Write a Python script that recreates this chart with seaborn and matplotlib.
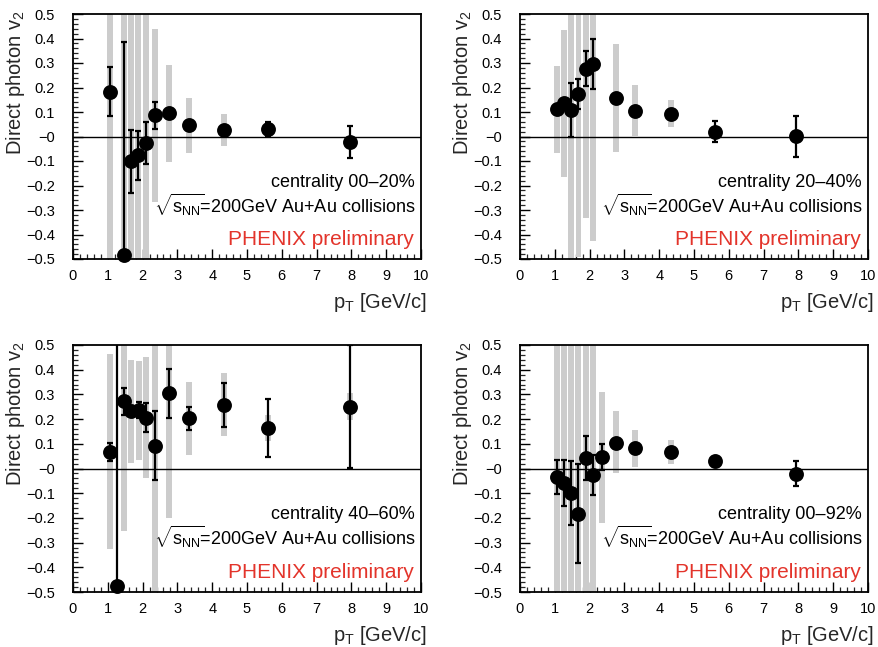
import numpy as np
import pandas as pd
import matplotlib
matplotlib.use("Agg")
import matplotlib.pyplot as plt
from matplotlib.ticker import FixedLocator, FixedFormatter, MultipleLocator
import seaborn as sns

# ---------------- data ----------------
centralities = ["centrality 00\u201320%", "centrality 20\u201340%",
                "centrality 40\u201360%", "centrality 00\u201392%"]

pt_0020 = [1.07, 1.46, 1.66, 1.88, 2.09, 2.36, 2.76, 3.33, 4.34, 5.61, 7.95]
v2_0020 = [0.183, -0.485, -0.102, -0.077, -0.026, 0.086, 0.095, 0.048, 0.027, 0.031, -0.022]
stat_0020 = [0.100, 0.872, 0.130, 0.100, 0.087, 0.055, 0.010, 0.010, 0.010, 0.027, 0.064]
syslo_0020 = [-0.6, -0.6, -0.6, -0.6, -0.6, -0.268, -0.105, -0.067, -0.037, 0.015, -0.035]
syshi_0020 = [0.6, 0.6, 0.6, 0.6, 0.6, 0.437, 0.292, 0.158, 0.092, 0.048, -0.008]

pt_2040 = [1.07, 1.27, 1.46, 1.68, 1.89, 2.09, 2.75, 3.31, 4.33, 5.60, 7.93]
v2_2040 = [0.112, 0.135, 0.110, 0.173, 0.277, 0.295, 0.157, 0.104, 0.092, 0.020, 0.001]
stat_2040 = [0.010, 0.010, 0.110, 0.061, 0.072, 0.101, 0.010, 0.010, 0.020, 0.042, 0.083]
syslo_2040 = [-0.066, -0.165, -0.6, -0.49, -0.331, -0.426, -0.064, 0.004, 0.038, 0.000, -0.015]
syshi_2040 = [0.288, 0.436, 0.6, 0.6, 0.6, 0.6, 0.376, 0.209, 0.149, 0.040, 0.017]

pt_4060 = [1.07, 1.27, 1.47, 1.67, 1.89, 2.10, 2.36, 2.76, 3.33, 4.34, 5.61, 7.95]
v2_4060 = [0.067, -0.474, 0.272, 0.233, 0.236, 0.206, 0.092, 0.304, 0.204, 0.258, 0.164, 0.251]
stat_4060 = [0.036, 1.2, 0.054, 0.020, 0.032, 0.060, 0.140, 0.100, 0.047, 0.090, 0.117, 0.250]
syslo_4060 = [-0.326, np.nan, -0.255, 0.023, 0.036, -0.038, -0.6, -0.201, 0.056, 0.130, 0.110, 0.197]
syshi_4060 = [0.462, np.nan, 0.6, 0.439, 0.435, 0.452, 0.6, 0.6, 0.349, 0.385, 0.216, 0.305]

pt_0092 = [1.07, 1.27, 1.46, 1.67, 1.89, 2.09, 2.36, 2.75, 3.30, 4.34, 5.60, 7.93]
v2_0092 = [-0.035, -0.060, -0.100, -0.183, 0.043, -0.027, 0.046, 0.103, 0.081, 0.066, 0.030, -0.021]
stat_0092 = [0.070, 0.093, 0.130, 0.200, 0.089, 0.080, 0.052, 0.010, 0.010, 0.010, 0.010, 0.050]
syslo_0092 = [-0.6, -0.6, -0.6, -0.6, -0.6, -0.6, -0.222, -0.020, 0.005, 0.017, 0.012, -0.040]
syshi_0092 = [0.6, 0.6, 0.6, 0.6, 0.6, 0.6, 0.309, 0.234, 0.157, 0.114, 0.048, -0.005]

ytick_values = [-0.5, -0.4, -0.3, -0.2, -0.1, 0.0, 0.1, 0.2, 0.3, 0.4, 0.5]
ytick_labels = ["\u22120.5", "\u22120.4", "\u22120.3", "\u22120.2", "\u22120.1", "\u22120",
                "0.1", "0.2", "0.3", "0.4", "0.5"]
xtick_values = [0, 1, 2, 3, 4, 5, 6, 7, 8, 9, 10]

panels = [
    (pt_0020, v2_0020, stat_0020, syslo_0020, syshi_0020),
    (pt_2040, v2_2040, stat_2040, syslo_2040, syshi_2040),
    (pt_4060, v2_4060, stat_4060, syslo_4060, syshi_4060),
    (pt_0092, v2_0092, stat_0092, syslo_0092, syshi_0092),
]

# ---------------- style ----------------
sns.set_theme(style="ticks")
plt.rcParams["font.family"] = ["Liberation Sans", "DejaVu Sans"]
plt.rcParams["mathtext.fontset"] = "custom"
plt.rcParams["mathtext.rm"] = "Liberation Sans"
plt.rcParams["mathtext.it"] = "Liberation Sans:italic"
plt.rcParams["axes.unicode_minus"] = True

fig = plt.figure(figsize=(8.79, 6.47), dpi=100)
W, H = 879, 647
positions = [
    (73 / W, (H - 259) / H, 348 / W, 245 / H),
    (520 / W, (H - 259) / H, 348 / W, 245 / H),
    (73 / W, (H - 592) / H, 348 / W, 247 / H),
    (520 / W, (H - 592) / H, 348 / W, 247 / H),
]

band_color = "#cccccc"
red = "#e3342b"

for i, (pos, (pt, v2, st, slo, shi)) in enumerate(zip(positions, panels)):
    ax = fig.add_axes(pos)
    df = pd.DataFrame({"pt": pt, "v2": v2, "stat": st, "slo": slo, "shi": shi})
    sys_df = df.dropna(subset=["slo", "shi"])
    # systematic bands
    ax.bar(sys_df["pt"], sys_df["shi"] - sys_df["slo"], bottom=sys_df["slo"],
           width=0.17, color=band_color, linewidth=0, zorder=1)
    # zero line
    ax.axhline(0, color="black", linewidth=1.0, zorder=2)
    # statistical errors
    ax.errorbar(df["pt"], df["v2"], yerr=df["stat"], fmt="none", ecolor="black",
                elinewidth=1.6, capsize=2.2, capthick=1.6, zorder=3)
    # points
    sns.scatterplot(data=df, x="pt", y="v2", ax=ax, color="black", s=115,
                    edgecolor="black", linewidth=0, zorder=4, legend=False)
    ax.collections[-1].set_clip_on(False)

    ax.set_xlim(0, 10)
    ax.set_ylim(-0.5, 0.5)
    ax.xaxis.set_major_locator(FixedLocator(xtick_values))
    ax.xaxis.set_minor_locator(MultipleLocator(0.2))
    ax.yaxis.set_major_locator(FixedLocator(ytick_values))
    ax.yaxis.set_major_formatter(FixedFormatter(ytick_labels))
    ax.yaxis.set_minor_locator(MultipleLocator(0.02))
    ax.tick_params(axis="both", which="major", direction="in", length=7, width=1.0,
                   labelsize=10.5, colors="black")
    ax.tick_params(axis="both", which="minor", direction="in", length=3.5, width=0.9)
    ax.tick_params(axis="x", which="both", top=False, pad=7)
    ax.tick_params(axis="y", which="both", right=False, pad=13)
    for sp in ax.spines.values():
        sp.set_color("black")
        sp.set_linewidth(1.3)
        sp.set_zorder(5)

    ax.set_xlabel(r"p$_{\mathrm{T}}$ [GeV/c]", fontsize=14.5, loc="right")
    ax.xaxis.set_label_coords(1.017, -0.176)
    ax.xaxis.label.set_va("center")
    ax.set_ylabel(r"Direct photon v$_{2}$", fontsize=14.5, loc="top")
    ax.yaxis.set_label_coords(-0.165, 1.016)
    ax.yaxis.label.set_va("center")

    ax.text(0.983, 0.312, centralities[i], transform=ax.transAxes, ha="right",
            va="center", fontsize=13, color="black")
    ax.text(0.983, 0.222, r"$\sqrt{\mathrm{s}_{\mathrm{NN}}}\!$=200GeV Au+Au collisions",
            transform=ax.transAxes, ha="right", va="center", fontsize=13, color="black")
    ax.text(0.980, 0.078, "PHENIX preliminary", transform=ax.transAxes, ha="right",
            va="center", fontsize=15, color=red)
    ax.set_facecolor("white")

fig.patch.set_facecolor("white")
fig.savefig("out.png", dpi=100, facecolor="white")
